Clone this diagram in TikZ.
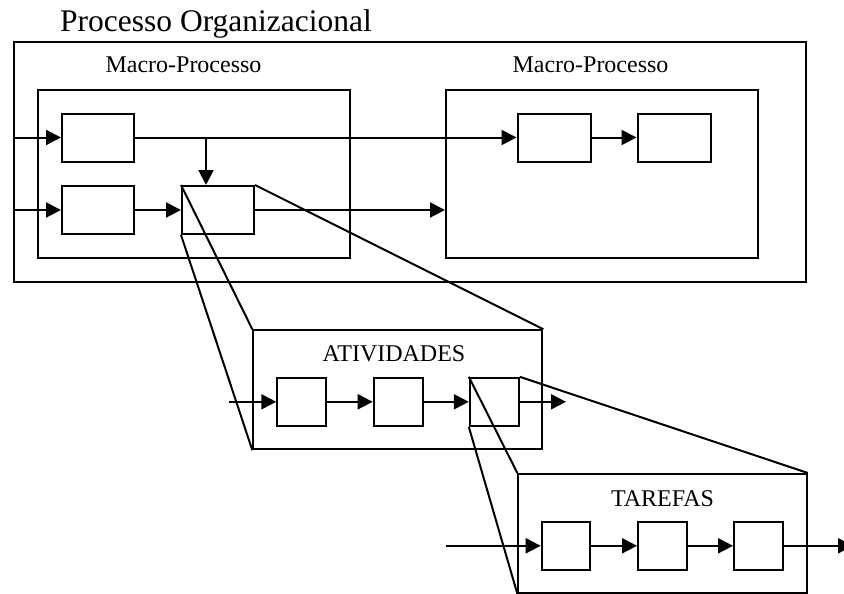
\documentclass[tikz,border=0pt]{standalone}
\usepackage{fontspec}
\setmainfont{Liberation Serif}
\usetikzlibrary{arrows.meta}

\tikzset{
  frame/.style={draw, line width=2pt, minimum width=#1, inner sep=0pt},
  stepbox/.style={draw, line width=2pt, inner sep=0pt, minimum width=#1, minimum height=48pt},
  flow/.style={line width=2pt, -{Triangle[length=15pt, width=15pt]}},
  zoomline/.style={line width=2pt},
  heading/.style={font=\fontsize{31.5}{36}\selectfont, inner sep=0pt},
  label/.style={font=\fontsize{24}{28}\selectfont, inner sep=0pt}
}

\begin{document}
\begin{tikzpicture}[x=1pt, y=-1pt]
  \clip (0,0) rectangle (844,594);
  \fill[white] (0,0) rectangle (844,594);

  % title and top-level frame
  \node[heading, anchor=base west] (title) at (60,32) {Processo Organizacional};
  \node[frame=792pt, minimum height=240pt] (outer) at (410,162) {};

  % the two macro-processes
  \node[frame=312pt, minimum height=168pt] (m1) at (194,174) {};
  \node[frame=312pt, minimum height=168pt] (m2) at (602,174) {};
  \node[label, anchor=base] (m1lbl) at (183.5,72.7) {Macro-Processo};
  \node[label, anchor=base] (m2lbl) at (590.5,72.7) {Macro-Processo};

  % processes inside the macro-processes
  \node[stepbox=72pt] (a) at (98,137.5) {};
  \node[stepbox=72pt] (b) at (98,210) {};
  \node[stepbox=72pt] (c) at (218,210) {};
  \node[stepbox=73pt] (d) at (554,137.5) {};
  \node[stepbox=73pt] (e) at (674,137.5) {};

  % process flows
  \coordinate (in1) at (outer.west |- a.west);
  \coordinate (in2) at (outer.west |- b.west);
  \coordinate (join) at (206,137.5);
  \draw[flow] (in1) -- (a.west);
  \draw[flow] (in2) -- (b.west);
  \draw[flow] (a.east) -- (d.west);
  \draw[flow] (d.east) -- (e.west);
  \draw[flow] (b.east) -- (c.west);
  \draw[flow] (join) -- (join |- c.north);
  \draw[flow] (c.east) -- (c.east -| m2.west);

  % activities of one process
  \node[frame=289pt, minimum height=119pt] (ativ) at (397.8,389.7) {};
  \node[label, anchor=base] (ativlbl) at (394,361.7) {ATIVIDADES};
  \node[stepbox=49pt] (f) at (301.8,401.8) {};
  \node[stepbox=49pt] (g) at (398.2,401.8) {};
  \node[stepbox=49pt] (h) at (494.3,401.8) {};
  \coordinate (fin) at (229.3,401.8);
  \coordinate (hout) at (566,401.8);
  \draw[flow] (fin) -- (f.west);
  \draw[flow] (f.east) -- (g.west);
  \draw[flow] (g.east) -- (h.west);
  \draw[flow] (h.east) -- (hout);

  % tasks of one activity
  \node[frame=288.4pt, minimum height=118.7pt] (tar) at (662.5,533.3) {};
  \node[label, anchor=base] (tarlbl) at (662.5,506) {TAREFAS};
  \node[stepbox=48.6pt] (i) at (566,545.8) {};
  \node[stepbox=48.6pt] (j) at (662.3,545.8) {};
  \node[stepbox=48.6pt] (k) at (758.3,545.8) {};
  \coordinate (iin) at (445.7,545.8);
  \coordinate (kout) at (853,545.8);
  \draw[flow] (iin) -- (i.west);
  \draw[flow] (i.east) -- (j.west);
  \draw[flow] (j.east) -- (k.west);
  \draw[flow] (k.east) -- (kout);

  % zoom projections
  \draw[zoomline] (c.north west) -- (ativ.north west);
  \draw[zoomline] (c.south west) -- (ativ.south west);
  \draw[zoomline] (c.north east) -- (ativ.north east);
  \draw[zoomline] (h.north west) -- (tar.north west);
  \draw[zoomline] (h.south west) -- (tar.south west);
  \draw[zoomline] (h.north east) -- (tar.north east);
\end{tikzpicture}
\end{document}
